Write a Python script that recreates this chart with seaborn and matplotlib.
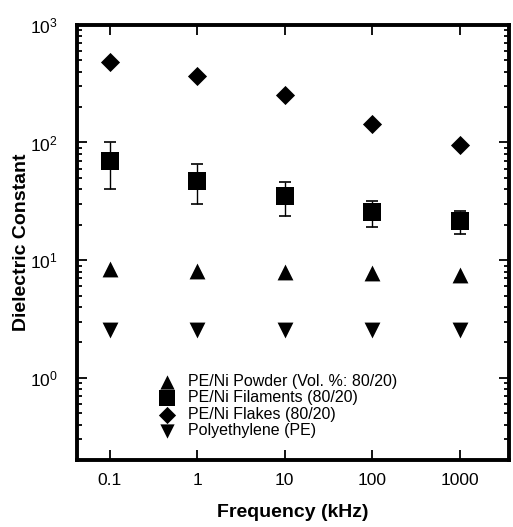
import numpy as np
import pandas as pd
import matplotlib
matplotlib.use("Agg")
import matplotlib.pyplot as plt
import seaborn as sns

# frequencies (kHz)
freq = [0.1, 1, 10, 100, 1000]

# dielectric constants
powder = [8.4, 8.1, 7.9, 7.7, 7.5]
filaments = [69, 47, 35, 25.5, 21.5]
filaments_hi = [100, 65, 46.5, 31.5, 26.2]
filaments_lo = [40, 30, 23.5, 19, 16.6]
flakes = [480, 365, 255, 143, 96]
polyethylene = [2.55, 2.55, 2.55, 2.55, 2.55]

labels = ["PE/Ni Powder (Vol. %: 80/20)", "PE/Ni Filaments (80/20)",
          "PE/Ni Flakes (80/20)", "Polyethylene (PE)"]

df = pd.DataFrame({
    "freq": freq * 4,
    "eps": powder + filaments + flakes + polyethylene,
    "sample": [s for s in labels for _ in freq],
})

sns.set_style("ticks")
plt.rcParams["font.family"] = ["Liberation Sans", "DejaVu Sans"]
plt.rcParams["text.color"] = "black"
plt.rcParams["axes.labelcolor"] = "black"
plt.rcParams["xtick.color"] = "black"
plt.rcParams["ytick.color"] = "black"
plt.rcParams["axes.edgecolor"] = "black"

fig, ax = plt.subplots(figsize=(5.13, 5.27), dpi=100)
fig.subplots_adjust(left=0.15, right=0.993, top=0.953, bottom=0.127)

# error bars for the filaments
fil = np.array(filaments)
ax.errorbar(freq, filaments, yerr=[fil - np.array(filaments_lo), np.array(filaments_hi) - fil],
            fmt="none", ecolor="black", elinewidth=1.0, capsize=4, capthick=1.2, zorder=2)

markers = {labels[0]: "^", labels[1]: "s", labels[2]: "D", labels[3]: "v"}
sizes = {labels[0]: 130, labels[1]: 150, labels[2]: 95, labels[3]: 130}
for lab in labels:
    sub = df[df["sample"] == lab]
    sns.scatterplot(data=sub, x="freq", y="eps", marker=markers[lab], s=sizes[lab],
                    color="black", edgecolor="black", linewidth=0, ax=ax, label=lab, zorder=3)

ax.set_xscale("log")
ax.set_yscale("log")
ax.set_xlim(0.042, 3700)
ax.set_ylim(0.2, 1000)

ax.set_xticks(freq)
ax.set_xticklabels(["0.1", "1", "10", "100", "1000"])
ax.xaxis.set_minor_locator(matplotlib.ticker.NullLocator())
ax.yaxis.set_major_locator(matplotlib.ticker.LogLocator(base=10))
ax.yaxis.set_minor_locator(matplotlib.ticker.LogLocator(base=10, subs=np.arange(2, 10)))

ax.tick_params(which="both", direction="in", top=True, right=True, labelsize=12.5, width=1.3)
ax.tick_params(which="major", length=7, pad=9)
ax.tick_params(axis="y", which="major", pad=14)
ax.tick_params(which="minor", length=3.5)
for sp in ax.spines.values():
    sp.set_linewidth(2.8)

ax.set_xlabel("Frequency (kHz)", fontsize=14, fontweight="bold", labelpad=12)
ax.set_ylabel("Dielectric Constant", fontsize=14, fontweight="bold", labelpad=0)

ax.legend(loc="lower left", bbox_to_anchor=(0.145, 0.025), frameon=False, fontsize=11.5,
          handletextpad=0.3, labelspacing=0.08, borderpad=0.2, markerscale=0.9)

fig.savefig("out.png", dpi=100)
